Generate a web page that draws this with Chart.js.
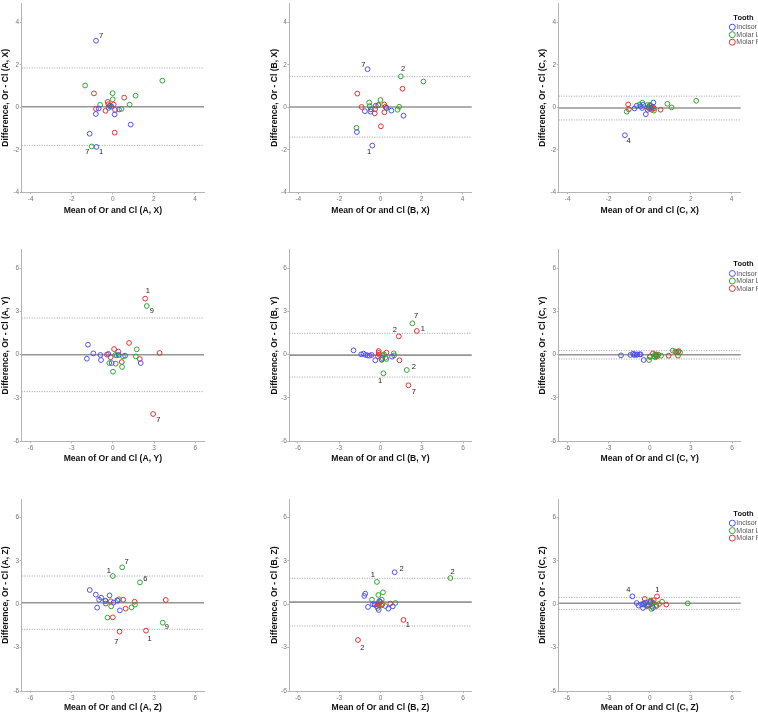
<!DOCTYPE html>
<html>
<head>
<meta charset="utf-8">
<title>Bland-Altman plots by tooth</title>
<script src="https://cdn.jsdelivr.net/npm/chart.js@4.4.1/dist/chart.umd.min.js"></script>
<style>
  html, body { margin: 0; padding: 0; background: #ffffff; }
  #wrap { position: relative; width: 758px; height: 714px; overflow: hidden; background: #ffffff; }
  #wrap canvas { position: absolute; }
</style>
</head>
<body>
<div id="wrap"></div>
<script>
// ---- data: [mean, difference] per tooth group, one set per panel ----
const groupNames = ['Incisor', 'Molar L', 'Molar R'];

const AX_incisor = [[-0.82, 3.14], [-0.80, -1.86], [-1.13, -1.24], [-0.83, -0.31], [-0.69, -0.05], [-0.20, -0.02], [-0.06, 0.04], [0.09, -0.33], [0.30, -0.10], [0.87, -0.81]];
const AX_molarL = [[-1.03, -1.84], [-1.35, 1.03], [-0.62, 0.12], [-0.01, 0.67], [-0.01, 0.38], [0.42, -0.07], [0.82, 0.13], [1.11, 0.55], [2.41, 1.26], [-0.15, 0.05]];
const AX_molarR = [[-0.92, 0.66], [-0.82, -0.07], [-0.36, -0.16], [-0.25, 0.26], [-0.22, 0.15], [-0.13, 0.09], [0.04, 0.13], [0.11, -0.12], [0.55, 0.46], [0.09, -1.19]];

const BX_incisor = [[-0.63, 1.80], [-0.40, -1.80], [-1.15, -1.16], [-0.76, -0.18], [-0.49, -0.20], [-0.47, -0.09], [-0.23, 0.08], [0.29, -0.02], [0.53, -0.15], [1.12, -0.39]];
const BX_molarL = [[0.99, 1.46], [2.09, 1.22], [-1.17, -0.96], [-0.55, 0.23], [-0.53, 0.06], [0.00, 0.35], [-0.10, 0.11], [0.29, -0.03], [0.83, -0.11], [0.91, 0.03]];
const BX_molarR = [[-1.13, 0.65], [-0.92, 0.02], [1.07, 0.88], [0.02, -0.89], [-0.28, -0.28], [-0.26, -0.08], [-0.11, 0.11], [0.18, 0.14], [0.19, -0.23], [0.24, 0.03]];

const CX_incisor = [[-1.21, -1.31], [-0.74, -0.05], [-0.63, 0.08], [-0.37, -0.03], [-0.32, 0.12], [-0.19, -0.32], [0.18, 0.23], [-0.05, -0.03], [0.11, 0.00], [-0.45, 0.05]];
const CX_molarL = [[-1.12, -0.20], [-0.50, 0.14], [-0.36, 0.22], [-0.11, 0.11], [0.02, 0.12], [0.21, -0.15], [0.86, 0.17], [1.07, 0.00], [2.27, 0.31], [-0.05, 0.03]];
const CX_molarR = [[-1.05, 0.14], [-1.02, -0.09], [-0.10, -0.11], [-0.05, 0.00], [0.06, -0.03], [0.16, 0.03], [0.21, -0.05], [0.53, -0.11], [0.00, 0.08], [0.10, -0.11]];

const AY_incisor = [[-1.81, 0.69], [-1.42, 0.09], [-1.89, -0.28], [-0.91, -0.02], [-0.86, -0.37], [-0.33, 0.05], [-0.09, -0.58], [0.89, -0.07], [2.03, -0.58], [0.43, -0.02]];
const AY_molarL = [[2.47, 3.37], [-0.26, -0.58], [0.01, -1.18], [0.18, -0.02], [0.21, -0.62], [0.67, -0.85], [0.74, -0.12], [1.67, -0.12], [1.74, 0.37], [0.28, -0.05]];
const AY_molarR = [[2.35, 3.88], [2.93, -4.11], [3.40, 0.12], [1.18, 0.81], [0.09, 0.39], [0.40, 0.21], [-0.43, 0.00], [-0.16, -0.18], [0.65, -0.51], [1.96, -0.30]];

const BY_incisor = [[-1.96, 0.30], [-1.40, 0.02], [-1.23, 0.07], [-1.08, -0.02], [-0.94, -0.05], [-0.79, -0.07], [-0.65, -0.02], [-0.38, -0.39], [0.84, -0.14], [0.11, -0.23]];
const BY_molarL = [[2.32, 2.17], [1.91, -1.06], [0.21, -1.29], [0.16, -0.07], [0.26, 0.02], [0.35, -0.21], [0.43, -0.30], [0.96, 0.09], [0.99, -0.05], [0.09, -0.35]];
const BY_molarR = [[2.64, 1.64], [1.33, 1.27], [2.03, -2.12], [1.38, -0.39], [-0.13, 0.25], [-0.13, 0.12], [-0.18, -0.12], [0.43, 0.14], [0.09, -0.35], [-0.09, 0.00]];

const CY_incisor = [[-2.09, -0.05], [-1.41, -0.02], [-1.21, 0.07], [-1.07, 0.02], [-0.90, 0.02], [-0.73, 0.02], [-0.66, 0.02], [-0.44, -0.37], [-0.95, -0.02], [-1.14, -0.02]];
const CY_molarL = [[-0.05, -0.37], [0.02, -0.16], [0.41, -0.18], [0.49, 0.02], [0.63, 0.00], [0.83, -0.07], [1.68, 0.28], [2.21, 0.16], [0.32, -0.12], [1.94, 0.18]];
const CY_molarR = [[0.02, -0.12], [0.24, 0.09], [0.39, 0.00], [0.49, -0.05], [1.38, -0.07], [1.87, 0.21], [2.06, 0.18], [2.06, -0.07], [2.11, 0.25], [0.53, -0.12]];

const AZ_incisor = [[-1.68, 0.99], [-1.24, 0.67], [-1.00, 0.32], [-0.85, 0.46], [-1.14, -0.23], [-0.24, 0.62], [0.05, 0.12], [0.51, -0.42], [-0.54, 0.23], [0.35, 0.25]];
const AZ_molarL = [[0.68, 2.56], [0.00, 1.96], [1.97, 1.52], [3.63, -1.27], [-0.54, 0.25], [-0.12, -0.14], [-0.39, -0.92], [0.44, 0.35], [1.36, -0.21], [1.61, -0.02]];
const AZ_molarR = [[0.49, -1.89], [2.41, -1.82], [3.85, 0.30], [-0.51, 0.05], [-0.15, 0.21], [0.32, 0.28], [0.75, 0.32], [0.93, -0.30], [1.58, 0.18], [0.00, -0.90]];

const BZ_incisor = [[1.03, 2.22], [-1.11, 0.74], [-1.18, 0.58], [-0.91, -0.18], [-0.55, 0.00], [-0.43, -0.02], [-0.13, -0.39], [0.57, -0.30], [0.89, -0.14], [-0.09, 0.23]];
const BZ_molarL = [[5.08, 1.82], [-0.26, 1.55], [0.18, 0.83], [-0.16, 0.65], [-0.62, 0.32], [0.09, 0.32], [1.08, 0.09], [0.35, -0.12], [-0.21, -0.25], [-0.04, 0.18]];
const BZ_molarR = [[-1.64, -2.47], [1.67, -1.08], [0.72, 0.05], [-0.38, -0.02], [-0.26, -0.12], [-0.11, -0.05], [-0.01, 0.16], [0.13, 0.00], [-0.21, 0.02], [0.06, -0.07]];

const CZ_incisor = [[-1.26, 0.55], [-0.95, 0.09], [-0.80, -0.09], [-0.49, -0.25], [-0.44, 0.05], [-0.29, 0.12], [0.07, 0.16], [0.24, -0.25], [-0.15, -0.09], [-0.61, 0.00]];
const CZ_molarL = [[2.77, 0.07], [0.90, 0.18], [0.12, -0.32], [-0.34, 0.05], [-0.05, -0.07], [0.29, 0.09], [0.49, -0.05], [-0.49, -0.02], [0.19, -0.14], [0.05, 0.25]];
const CZ_molarR = [[0.53, 0.55], [-0.36, 0.37], [0.10, 0.23], [0.29, 0.28], [0.68, 0.02], [1.21, -0.02], [-0.10, -0.02], [-0.22, -0.12], [0.49, -0.12], [0.19, 0.12]];

// [mean difference, upper limit, lower limit]
const AX_limits = [0.03, 1.86, -1.79];
const BX_limits = [0.02, 1.45, -1.40];
const CX_limits = [-0.03, 0.53, -0.59];
const AY_limits = [-0.01, 2.54, -2.56];
const BY_limits = [-0.03, 1.48, -1.55];
const CY_limits = [-0.01, 0.28, -0.30];
const AZ_limits = [0.11, 1.96, -1.73];
const BZ_limits = [0.15, 1.80, -1.50];
const CZ_limits = [0.07, 0.48, -0.35];

// case labels: [text, group index, point index]
const AX_cases = [['7', 0, 0], ['1', 0, 1], ['7', 1, 0]];
const BX_cases = [['7', 0, 0], ['1', 0, 1], ['2', 1, 0]];
const CX_cases = [['4', 0, 0]];
const AY_cases = [['9', 1, 0], ['1', 2, 0], ['7', 2, 1]];
const BY_cases = [['7', 1, 0], ['2', 1, 1], ['1', 1, 2], ['1', 2, 0], ['2', 2, 1], ['7', 2, 2]];
const CY_cases = [];
const AZ_cases = [['7', 1, 0], ['1', 1, 1], ['6', 1, 2], ['9', 1, 3], ['7', 2, 0], ['1', 2, 1]];
const BZ_cases = [['2', 0, 0], ['2', 1, 0], ['1', 1, 1], ['2', 2, 0], ['1', 2, 1]];
const CZ_cases = [['4', 0, 0], ['1', 2, 0]];

// tick labels
const ticksX = [-4, -2, 0, 2, 4];
const ticksY = [-4, -2, 0, 2, 4];
const ticksYZ = [-6, -3, 0, 3, 6];

// ---- style / layout (kept apart from the data) ----
const groupColors = ['#4f4fee', '#2fa52f', '#e53030'];
const FONT = "'Liberation Sans', Arial, sans-serif";
const TITLE_SIZE = 8.6;
const LH = TITLE_SIZE * 1.2;
const AXIS_GREY = '#b4b4b4';

// pixel offsets of case labels from their point, same order as *_cases
const AX_caseOffsets = [[5, -4.7], [4.7, 4.7], [-4.3, 5]];
const BX_caseOffsets = [[-4.3, -4], [-3.3, 6], [2.3, -7.3]];
const CX_caseOffsets = [[3.7, 5.7]];
const AY_caseOffsets = [[5, 5.3], [2.7, -7.3], [5.3, 5.7]];
const BY_caseOffsets = [[3.7, -7], [7, -2.7], [-3.3, 7.3], [6, -2], [-4, -6.3], [5.3, 6.7]];
const CY_caseOffsets = [];
const AZ_caseOffsets = [[4.3, -5.7], [-4, -5], [5.3, -3.3], [4, 4.7], [-3.3, 10], [3.7, 8]];
const BZ_caseOffsets = [[7, -3.7], [2.3, -6.3], [-4, -7.3], [4.3, 7.7], [4.3, 5.3]];
const CZ_caseOffsets = [[-4, -6.7], [0.3, -6.7]];

const COLS = [
  { key: 'A', left: 0,   width: 250, areaLeft: 21.7, areaRight: 204.0, titleX: 5.2 },
  { key: 'B', left: 250, width: 250, areaLeft: 39.3, areaRight: 221.7, titleX: 25.0 },
  { key: 'C', left: 500, width: 258, areaLeft: 58.7, areaRight: 240.7, titleX: 42.7 }
];
const ROWS = [
  { key: 'X', top: 0,   height: 238, areaTop: 0,    areaBottom: 192.3, titleY: 211.0, xMin: -4.44, xMax: 4.44, yMin: -4, yMax: 4.9,  xt: ticksX,  yt: ticksY },
  { key: 'Y', top: 238, height: 238, areaTop: 11.7, areaBottom: 203.3, titleY: 221.0, xMin: -6.63, xMax: 6.63, yMin: -6, yMax: 7.27, xt: ticksYZ, yt: ticksYZ },
  { key: 'Z', top: 476, height: 238, areaTop: 23.3, areaBottom: 215.0, titleY: 231.7, xMin: -6.63, xMax: 6.63, yMin: -6, yMax: 7.27, xt: ticksYZ, yt: ticksYZ }
];

const panels = [
  { col: 0, row: 0, series: [AX_incisor, AX_molarL, AX_molarR], limits: AX_limits, cases: AX_cases, offsets: AX_caseOffsets },
  { col: 1, row: 0, series: [BX_incisor, BX_molarL, BX_molarR], limits: BX_limits, cases: BX_cases, offsets: BX_caseOffsets },
  { col: 2, row: 0, series: [CX_incisor, CX_molarL, CX_molarR], limits: CX_limits, cases: CX_cases, offsets: CX_caseOffsets },
  { col: 0, row: 1, series: [AY_incisor, AY_molarL, AY_molarR], limits: AY_limits, cases: AY_cases, offsets: AY_caseOffsets },
  { col: 1, row: 1, series: [BY_incisor, BY_molarL, BY_molarR], limits: BY_limits, cases: BY_cases, offsets: BY_caseOffsets },
  { col: 2, row: 1, series: [CY_incisor, CY_molarL, CY_molarR], limits: CY_limits, cases: CY_cases, offsets: CY_caseOffsets },
  { col: 0, row: 2, series: [AZ_incisor, AZ_molarL, AZ_molarR], limits: AZ_limits, cases: AZ_cases, offsets: AZ_caseOffsets },
  { col: 1, row: 2, series: [BZ_incisor, BZ_molarL, BZ_molarR], limits: BZ_limits, cases: BZ_cases, offsets: BZ_caseOffsets },
  { col: 2, row: 2, series: [CZ_incisor, CZ_molarL, CZ_molarR], limits: CZ_limits, cases: CZ_cases, offsets: CZ_caseOffsets }
];

// mean (solid) and limits of agreement (dotted)
function refLinesPlugin(limits) {
  return {
    id: 'refLines',
    beforeDatasetsDraw(chart) {
      const { ctx, chartArea, scales } = chart;
      ctx.save();
      limits.forEach(function(v, i) {
        const y = scales.y.getPixelForValue(v);
        ctx.beginPath();
        if (i === 0) {
          ctx.strokeStyle = '#959595';
          ctx.lineWidth = 1.6;
          ctx.setLineDash([]);
        } else {
          ctx.strokeStyle = '#a0a0a0';
          ctx.lineWidth = 1;
          ctx.setLineDash([1, 1.5]);
        }
        ctx.moveTo(chartArea.left, y);
        ctx.lineTo(chartArea.right, y);
        ctx.stroke();
      });
      ctx.restore();
    }
  };
}

// case number labels next to outlying points
function caseLabelsPlugin(panel) {
  return {
    id: 'caseLabels',
    afterDatasetsDraw(chart) {
      const { ctx, scales } = chart;
      ctx.save();
      ctx.font = '7.5px ' + FONT;
      ctx.fillStyle = '#222222';
      ctx.textAlign = 'center';
      ctx.textBaseline = 'middle';
      panel.cases.forEach(function(c, i) {
        const p = panel.series[c[1]][c[2]];
        const off = panel.offsets[i];
        ctx.fillText(c[0], scales.x.getPixelForValue(p[0]) + off[0], scales.y.getPixelForValue(p[1]) + off[1]);
      });
      ctx.restore();
    }
  };
}

// "Tooth" legend at top right of the right-hand panels
const toothLegendPlugin = {
  id: 'toothLegend',
  afterDraw(chart) {
    const { ctx, chartArea } = chart;
    const top = chartArea.top;
    ctx.save();
    ctx.textBaseline = 'middle';
    ctx.font = 'bold 7.5px ' + FONT;
    ctx.fillStyle = '#111111';
    ctx.textAlign = 'center';
    ctx.fillText('Tooth', 243.5, top + 14.7);
    ctx.font = '7px ' + FONT;
    ctx.textAlign = 'left';
    groupNames.forEach(function(name, i) {
      const y = top + 23.8 + i * 7.5;
      ctx.beginPath();
      ctx.strokeStyle = groupColors[i];
      ctx.lineWidth = 1;
      ctx.arc(232.3, y, 3, 0, Math.PI * 2);
      ctx.stroke();
      ctx.fillStyle = '#555555';
      ctx.fillText(name, 236.3, y + 0.3);
    });
    ctx.restore();
  }
};

function buildPanel(panel) {
  const col = COLS[panel.col];
  const row = ROWS[panel.row];
  const tag = col.key + ', ' + row.key;

  const canvas = document.createElement('canvas');
  canvas.width = col.width;
  canvas.height = row.height;
  canvas.style.left = col.left + 'px';
  canvas.style.top = row.top + 'px';
  canvas.style.width = col.width + 'px';
  canvas.style.height = row.height + 'px';
  document.getElementById('wrap').appendChild(canvas);

  const padLeft = Math.max(col.titleX - LH / 2, 0);
  const yAxisWidth = col.areaLeft - padLeft;
  const xAxisHeight = row.titleY + LH / 2 - row.areaBottom;

  const tickFont = { size: 6.5, family: FONT };
  const titleFont = { size: TITLE_SIZE, weight: 'bold', family: FONT, lineHeight: 1.2 };

  const plugins = [refLinesPlugin(panel.limits), caseLabelsPlugin(panel)];
  if (panel.col === 2) plugins.push(toothLegendPlugin);

  return new Chart(canvas.getContext('2d'), {
    type: 'scatter',
    data: {
      datasets: panel.series.map(function(pts, i) {
        return {
          label: groupNames[i],
          data: pts.map(function(p) { return { x: p[0], y: p[1] }; }),
          pointStyle: 'circle',
          pointRadius: 2.4,
          pointHoverRadius: 2.4,
          pointBorderWidth: 1,
          pointBorderColor: groupColors[i],
          pointBackgroundColor: 'rgba(0,0,0,0)',
          borderColor: groupColors[i],
          backgroundColor: 'rgba(0,0,0,0)'
        };
      })
    },
    options: {
      responsive: false,
      animation: false,
      events: [],
      layout: {
        padding: {
          left: padLeft,
          right: col.width - col.areaRight,
          top: row.areaTop,
          bottom: row.height - row.areaBottom - xAxisHeight
        }
      },
      plugins: {
        legend: { display: false },
        tooltip: { enabled: false }
      },
      scales: {
        x: {
          type: 'linear',
          min: row.xMin,
          max: row.xMax,
          afterBuildTicks: function(scale) {
            scale.ticks = row.xt.map(function(v) { return { value: v }; });
          },
          afterFit: function(scale) {
            scale.height = xAxisHeight;
            scale.paddingLeft = 0;
            scale.paddingRight = 0;
          },
          ticks: {
            font: tickFont,
            color: '#777777',
            padding: 1,
            maxRotation: 0,
            autoSkip: false,
            callback: function(v) { return String(v); }
          },
          grid: { display: true, drawOnChartArea: false, drawTicks: true, tickLength: 2, color: AXIS_GREY },
          border: { display: true, color: AXIS_GREY, width: 1 },
          title: {
            display: true,
            text: 'Mean of Or and Cl (' + tag + ')',
            font: titleFont,
            color: '#111111',
            padding: 0
          }
        },
        y: {
          type: 'linear',
          min: row.yMin,
          max: row.yMax,
          afterBuildTicks: function(scale) {
            scale.ticks = row.yt.map(function(v) { return { value: v }; });
          },
          afterFit: function(scale) {
            scale.width = yAxisWidth;
            scale.paddingTop = 0;
            scale.paddingBottom = 0;
          },
          ticks: {
            font: tickFont,
            color: '#777777',
            padding: 0.5,
            autoSkip: false,
            callback: function(v) { return String(v); }
          },
          grid: { display: true, drawOnChartArea: false, drawTicks: true, tickLength: 2, color: AXIS_GREY },
          border: { display: true, color: AXIS_GREY, width: 1 },
          title: {
            display: true,
            text: 'Difference, Or - Cl (' + tag + ')',
            font: titleFont,
            color: '#111111',
            padding: 0
          }
        }
      }
    },
    plugins: plugins
  });
}

panels.forEach(buildPanel);
</script>
</body>
</html>
